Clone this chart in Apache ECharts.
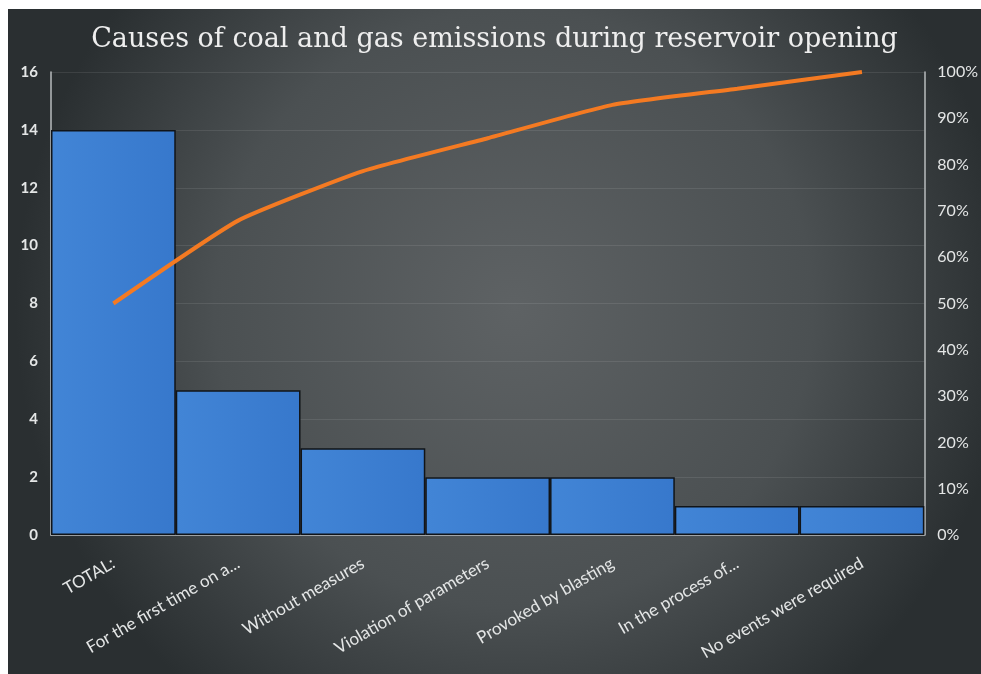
<!DOCTYPE html>
<html>
<head>
<meta charset="utf-8">
<script src="https://cdn.jsdelivr.net/npm/echarts@6/dist/echarts.min.js"></script>
<style>
html,body{margin:0;padding:0;background:#ffffff;}
#c{position:absolute;left:8px;top:9px;width:973px;height:665px;}
</style>
</head>
<body>
<div id="c"></div>
<script>
const categories = ['TOTAL:', 'For the first time on a...', 'Without measures', 'Violation of parameters', 'Provoked by blasting', 'In the process of...', 'No events were required'];
const counts = [14, 5, 3, 2, 2, 1, 1];
const cumulativePercent = [50, 67.9, 78.6, 85.7, 92.9, 96.4, 100];
const leftTicks = [0, 2, 4, 6, 8, 10, 12, 14, 16];
const rightTicks = [0, 10, 20, 30, 40, 50, 60, 70, 80, 90, 100];

const chart = echarts.init(document.getElementById('c'));
const labelColor = '#e4e6e6';
chart.setOption({
  backgroundColor: {
    type: 'radial', x: 0.52, y: 0.45, r: 0.75,
    colorStops: [
      {offset: 0, color: '#5e6264'},
      {offset: 0.6, color: '#4b5052'},
      {offset: 1, color: '#2a2f31'}
    ]
  },
  title: {
    text: 'Causes of coal and gas emissions during reservoir opening',
    left: 'center',
    top: 12,
    textStyle: {fontFamily: 'DejaVu Serif', fontWeight: 'normal', fontSize: 27, color: '#eeeeee'}
  },
  grid: {left: 43, right: 56, top: 63, bottom: 139},
  xAxis: {
    type: 'category',
    data: categories,
    axisLine: {lineStyle: {color: '#b8bcbe', width: 1.5}},
    axisTick: {show: false},
    axisLabel: {rotate: 30, color: labelColor, fontFamily: 'Lato', fontSize: 17, margin: 27, interval: 0}
  },
  yAxis: [
    {
      type: 'value', min: leftTicks[0], max: leftTicks[leftTicks.length - 1], interval: 2,
      axisLine: {show: true, lineStyle: {color: '#b8bcbe', width: 1.5}},
      axisTick: {show: false},
      axisLabel: {color: labelColor, fontFamily: 'Lato', fontSize: 15, fontWeight: 'bold', margin: 13},
      splitLine: {show: true, lineStyle: {color: 'rgba(255,255,255,0.09)', width: 1}}
    },
    {
      type: 'value', min: rightTicks[0], max: rightTicks[rightTicks.length - 1], interval: 10,
      position: 'right',
      axisLine: {show: true, lineStyle: {color: '#b8bcbe', width: 1.5}},
      axisTick: {show: false},
      axisLabel: {color: labelColor, fontFamily: 'Lato', fontSize: 16, margin: 13, formatter: '{value}%'},
      splitLine: {show: false}
    }
  ],
  series: [
    {
      type: 'bar',
      data: counts,
      barCategoryGap: '0%',
      itemStyle: {
        color: {type: 'linear', x: 0, y: 0, x2: 1, y2: 0, colorStops: [
          {offset: 0, color: '#4285d6'}, {offset: 1, color: '#3778cc'}]},
        borderColor: '#111418', borderWidth: 1.5
      },
      z: 2
    },
    {
      type: 'line',
      yAxisIndex: 1,
      data: cumulativePercent,
      smooth: 0.15,
      symbol: 'none',
      lineStyle: {color: '#f47a22', width: 4},
      z: 3
    }
  ]
});
</script>
</body>
</html>
